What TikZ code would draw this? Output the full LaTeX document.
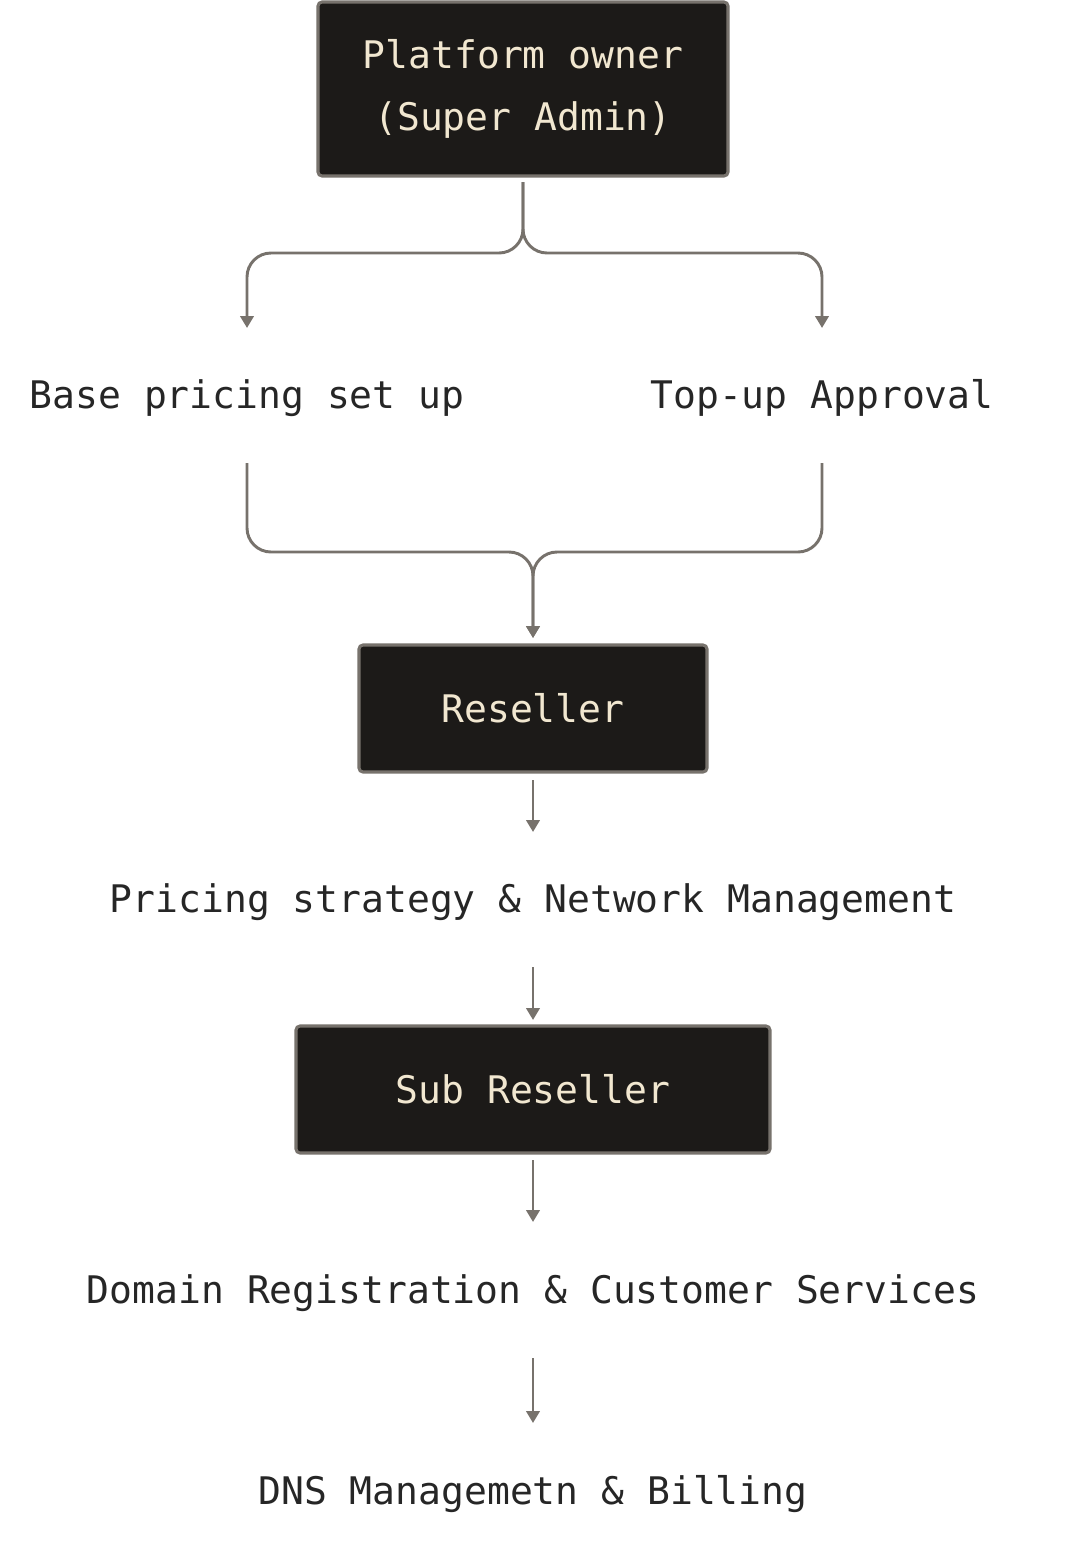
\documentclass[tikz,border=0pt]{standalone}
\usepackage{fontspec}
\setmonofont{DejaVu Sans Mono}
\usetikzlibrary{arrows.meta}
\definecolor{boxfill}{HTML}{1C1A18}
\definecolor{boxline}{HTML}{77726C}
\definecolor{cream}{HTML}{F1E7D0}
\definecolor{txt}{HTML}{262626}
\tikzset{
  box/.style={draw=boxline, line width=2.3pt, fill=boxfill, rounded corners=3pt, text=cream, align=center, inner sep=0pt},
  lbl/.style={text=txt, inner sep=0pt},
  conn/.style={draw=boxline, line width=2.2pt, rounded corners=18pt, -{Triangle[width=10pt,length=9pt]}},
}
\begin{document}
\begin{tikzpicture}[x=0.75pt,y=-0.75pt,font=\ttfamily\fontsize{28.5}{46}\selectfont]
\useasboundingbox (0,0) rectangle (1071,1556);
\node[box, minimum width=410*0.75pt, minimum height=174*0.75pt] (owner) at (523,89) {Platform owner\\(Super Admin)};
\node[lbl] (base) at (247,398) {Base pricing set up};
\node[lbl] (topup) at (822,398) {Top-up Approval};
\node[box, minimum width=348*0.75pt, minimum height=127*0.75pt] (res) at (533,708.5) {Reseller};
\node[lbl] (strat) at (533,902) {Pricing strategy \& Network Management};
\node[box, minimum width=474*0.75pt, minimum height=127*0.75pt] (sub) at (533,1089.5) {Sub Reseller};
\node[lbl] (dom) at (533,1293) {Domain Registration \& Customer Services};
\node[lbl] (dns) at (533,1494) {DNS Managemetn \& Billing};
\coordinate (o1) at (523,182);
\coordinate (b1) at (247,328); \coordinate (t1) at (822,328);
\coordinate (b2) at (247,463); \coordinate (t2) at (822,463);
\coordinate (r1) at (533,638);
\draw[conn] (o1) |- (385,253) -| (b1);
\draw[conn] (o1) |- (660,253) -| (t1);
\draw[conn] (b2) |- (400,552) -| (r1);
\draw[conn] (t2) |- (680,552) -| (r1);
\draw[conn] (533,780) -- (533,832);
\draw[conn] (533,967) -- (533,1020);
\draw[conn] (533,1160) -- (533,1222);
\draw[conn] (533,1358) -- (533,1423);
\end{tikzpicture}
\end{document}
